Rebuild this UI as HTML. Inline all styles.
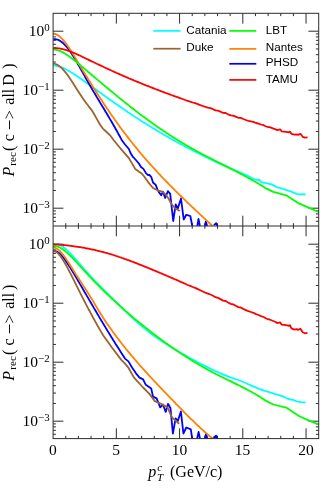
<!DOCTYPE html><html><head><meta charset="utf-8"><style>html,body{margin:0;padding:0;background:#fff}body{width:332px;height:492px;position:relative;overflow:hidden;font-family:"Liberation Sans",sans-serif}</style></head><body><svg width="332" height="492" viewBox="0 0 332 492" style="position:absolute;left:0;top:0;will-change:transform;opacity:0.999">
<defs><clipPath id="ct"><rect x="53.1" y="13.3" width="265.6" height="213.3"/></clipPath><clipPath id="cb"><rect x="53.1" y="226.0" width="265.6" height="213.2"/></clipPath></defs>
<path d="M65.75,13.3 v2.8 M65.75,223.2 v5.6 M65.75,438.6 v-2.8 M78.40,13.3 v2.8 M78.40,223.2 v5.6 M78.40,438.6 v-2.8 M91.04,13.3 v2.8 M91.04,223.2 v5.6 M91.04,438.6 v-2.8 M103.69,13.3 v2.8 M103.69,223.2 v5.6 M103.69,438.6 v-2.8 M116.34,13.3 v10.3 M116.34,215.7 v20.6 M116.34,438.6 v-10.3 M128.99,13.3 v2.8 M128.99,223.2 v5.6 M128.99,438.6 v-2.8 M141.63,13.3 v2.8 M141.63,223.2 v5.6 M141.63,438.6 v-2.8 M154.28,13.3 v2.8 M154.28,223.2 v5.6 M154.28,438.6 v-2.8 M166.93,13.3 v2.8 M166.93,223.2 v5.6 M166.93,438.6 v-2.8 M179.58,13.3 v10.3 M179.58,215.7 v20.6 M179.58,438.6 v-10.3 M192.22,13.3 v2.8 M192.22,223.2 v5.6 M192.22,438.6 v-2.8 M204.87,13.3 v2.8 M204.87,223.2 v5.6 M204.87,438.6 v-2.8 M217.52,13.3 v2.8 M217.52,223.2 v5.6 M217.52,438.6 v-2.8 M230.17,13.3 v2.8 M230.17,223.2 v5.6 M230.17,438.6 v-2.8 M242.81,13.3 v10.3 M242.81,215.7 v20.6 M242.81,438.6 v-10.3 M255.46,13.3 v2.8 M255.46,223.2 v5.6 M255.46,438.6 v-2.8 M268.11,13.3 v2.8 M268.11,223.2 v5.6 M268.11,438.6 v-2.8 M280.76,13.3 v2.8 M280.76,223.2 v5.6 M280.76,438.6 v-2.8 M293.40,13.3 v2.8 M293.40,223.2 v5.6 M293.40,438.6 v-2.8 M306.05,13.3 v10.3 M306.05,215.7 v20.6 M306.05,438.6 v-10.3 M53.1,221.29 h2.8 M318.7,221.29 h-2.8 M53.1,217.34 h2.8 M318.7,217.34 h-2.8 M53.1,213.92 h2.8 M318.7,213.92 h-2.8 M53.1,210.90 h2.8 M318.7,210.90 h-2.8 M53.1,208.20 h10.3 M318.7,208.20 h-10.3 M53.1,190.44 h2.8 M318.7,190.44 h-2.8 M53.1,180.05 h2.8 M318.7,180.05 h-2.8 M53.1,172.68 h2.8 M318.7,172.68 h-2.8 M53.1,166.96 h2.8 M318.7,166.96 h-2.8 M53.1,162.29 h2.8 M318.7,162.29 h-2.8 M53.1,158.34 h2.8 M318.7,158.34 h-2.8 M53.1,154.92 h2.8 M318.7,154.92 h-2.8 M53.1,151.90 h2.8 M318.7,151.90 h-2.8 M53.1,149.20 h10.3 M318.7,149.20 h-10.3 M53.1,131.44 h2.8 M318.7,131.44 h-2.8 M53.1,121.05 h2.8 M318.7,121.05 h-2.8 M53.1,113.68 h2.8 M318.7,113.68 h-2.8 M53.1,107.96 h2.8 M318.7,107.96 h-2.8 M53.1,103.29 h2.8 M318.7,103.29 h-2.8 M53.1,99.34 h2.8 M318.7,99.34 h-2.8 M53.1,95.92 h2.8 M318.7,95.92 h-2.8 M53.1,92.90 h2.8 M318.7,92.90 h-2.8 M53.1,90.20 h10.3 M318.7,90.20 h-10.3 M53.1,72.44 h2.8 M318.7,72.44 h-2.8 M53.1,62.05 h2.8 M318.7,62.05 h-2.8 M53.1,54.68 h2.8 M318.7,54.68 h-2.8 M53.1,48.96 h2.8 M318.7,48.96 h-2.8 M53.1,44.29 h2.8 M318.7,44.29 h-2.8 M53.1,40.34 h2.8 M318.7,40.34 h-2.8 M53.1,36.92 h2.8 M318.7,36.92 h-2.8 M53.1,33.90 h2.8 M318.7,33.90 h-2.8 M53.1,31.20 h10.3 M318.7,31.20 h-10.3 M53.1,434.29 h2.8 M318.7,434.29 h-2.8 M53.1,430.34 h2.8 M318.7,430.34 h-2.8 M53.1,426.92 h2.8 M318.7,426.92 h-2.8 M53.1,423.90 h2.8 M318.7,423.90 h-2.8 M53.1,421.20 h10.3 M318.7,421.20 h-10.3 M53.1,403.44 h2.8 M318.7,403.44 h-2.8 M53.1,393.05 h2.8 M318.7,393.05 h-2.8 M53.1,385.68 h2.8 M318.7,385.68 h-2.8 M53.1,379.96 h2.8 M318.7,379.96 h-2.8 M53.1,375.29 h2.8 M318.7,375.29 h-2.8 M53.1,371.34 h2.8 M318.7,371.34 h-2.8 M53.1,367.92 h2.8 M318.7,367.92 h-2.8 M53.1,364.90 h2.8 M318.7,364.90 h-2.8 M53.1,362.20 h10.3 M318.7,362.20 h-10.3 M53.1,344.44 h2.8 M318.7,344.44 h-2.8 M53.1,334.05 h2.8 M318.7,334.05 h-2.8 M53.1,326.68 h2.8 M318.7,326.68 h-2.8 M53.1,320.96 h2.8 M318.7,320.96 h-2.8 M53.1,316.29 h2.8 M318.7,316.29 h-2.8 M53.1,312.34 h2.8 M318.7,312.34 h-2.8 M53.1,308.92 h2.8 M318.7,308.92 h-2.8 M53.1,305.90 h2.8 M318.7,305.90 h-2.8 M53.1,303.20 h10.3 M318.7,303.20 h-10.3 M53.1,285.44 h2.8 M318.7,285.44 h-2.8 M53.1,275.05 h2.8 M318.7,275.05 h-2.8 M53.1,267.68 h2.8 M318.7,267.68 h-2.8 M53.1,261.96 h2.8 M318.7,261.96 h-2.8 M53.1,257.29 h2.8 M318.7,257.29 h-2.8 M53.1,253.34 h2.8 M318.7,253.34 h-2.8 M53.1,249.92 h2.8 M318.7,249.92 h-2.8 M53.1,246.90 h2.8 M318.7,246.90 h-2.8 M53.1,244.20 h10.3 M318.7,244.20 h-10.3 " stroke="#2c2c2c" stroke-width="1" fill="none"/>
<g clip-path="url(#ct)" fill="none" stroke-width="1.8" stroke-linejoin="round" stroke-linecap="butt">
<path d="M53.3,65.5 L54.3,65.6 L55.3,65.7 L56.3,65.9 L57.3,66.1 L58.3,66.3 L59.3,66.6 L60.3,66.9 L61.3,67.3 L62.3,67.7 L63.3,68.1 L64.3,68.6 L65.3,69.0 L66.3,69.5 L67.3,70.1 L68.3,70.6 L69.3,71.2 L70.3,71.8 L71.3,72.4 L72.3,73.0 L73.3,73.7 L74.3,74.3 L75.3,75.0 L76.3,75.7 L77.3,76.3 L78.3,77.0 L79.3,77.7 L80.3,78.4 L81.3,79.1 L82.3,79.8 L83.3,80.5 L84.3,81.2 L85.3,81.9 L86.3,82.7 L87.3,83.4 L88.3,84.1 L89.3,84.8 L90.3,85.5 L91.3,86.2 L92.3,86.9 L93.3,87.7 L94.3,88.4 L95.3,89.1 L96.3,89.8 L97.3,90.5 L98.3,91.3 L99.3,92.0 L100.3,92.7 L101.3,93.4 L102.3,94.1 L103.3,94.9 L104.3,95.6 L105.3,96.3 L106.3,97.0 L107.3,97.7 L108.3,98.5 L109.3,99.2 L110.3,99.9 L111.3,100.6 L112.3,101.3 L113.3,102.0 L114.3,102.7 L115.3,103.4 L116.3,104.1 L117.3,104.8 L118.3,105.5 L119.3,106.2 L120.3,106.9 L121.3,107.6 L122.3,108.3 L123.3,109.0 L124.3,109.7 L125.3,110.3 L126.3,111.0 L127.3,111.7 L128.3,112.4 L129.3,113.0 L130.3,113.7 L131.3,114.4 L132.3,115.0 L133.3,115.7 L134.3,116.4 L135.3,117.0 L136.3,117.7 L137.3,118.3 L138.3,119.0 L139.3,119.6 L140.3,120.2 L141.3,120.9 L142.3,121.5 L143.3,122.2 L144.3,122.8 L145.3,123.4 L146.3,124.0 L147.3,124.7 L148.3,125.3 L149.3,125.9 L150.3,126.5 L151.3,127.1 L152.3,127.8 L153.3,128.4 L154.3,129.0 L155.3,129.6 L156.3,130.2 L157.3,130.8 L158.3,131.4 L159.3,132.0 L160.3,132.6 L161.3,133.2 L162.3,133.7 L163.3,134.3 L164.3,134.9 L165.3,135.5 L166.3,136.1 L167.3,136.6 L168.3,137.2 L169.3,137.8 L170.3,138.4 L171.3,138.9 L172.3,139.5 L173.3,140.1 L174.3,140.6 L175.3,141.2 L176.3,141.7 L177.3,142.3 L178.3,142.8 L179.3,143.4 L180.3,143.9 L181.3,144.5 L182.3,145.0 L183.3,145.5 L184.3,146.1 L185.3,146.6 L186.3,147.1 L187.3,147.7 L188.3,148.2 L189.3,148.7 L190.3,149.2 L191.3,149.8 L192.3,150.3 L193.3,150.8 L194.3,151.3 L195.3,151.8 L196.3,152.3 L197.3,152.8 L198.3,153.3 L199.3,153.8 L200.3,154.3 L201.3,154.8 L202.3,155.3 L203.3,155.8 L204.3,156.3 L205.3,156.8 L206.3,157.3 L207.3,157.8 L208.3,158.3 L209.3,158.7 L210.3,159.2 L211.3,159.7 L212.3,160.2 L213.3,160.6 L214.3,161.1 L215.3,161.6 L216.3,162.0 L217.3,162.5 L218.3,163.0 L219.3,163.4 L220.3,163.9 L221.3,164.3 L222.3,164.8 L223.3,165.2 L224.3,165.7 L225.3,166.1 L226.3,166.6 L227.3,167.0 L228.3,167.4 L229.3,167.9 L230.3,168.3 L231.3,168.7 L232.3,169.2 L233.3,169.6 L234.3,170.0 L235.3,170.4 L236.3,170.9 L237.3,171.3 L238.3,171.7 L239.3,172.1 L240.0,172.4 L244.0,174.2 L248.4,176.0 L252.6,178.5 L256.9,180.0 L259.0,179.6 L261.1,182.1 L266.0,183.2 L271.6,184.4 L276.9,187.1 L282.2,188.6 L290.6,191.4 L296.0,193.6 L299.0,194.5 L302.0,194.2 L305.6,194.5" stroke="#00FFFF"/>
<path d="M53.3,39.3 L54.3,39.2 L55.3,39.2 L56.3,39.3 L57.3,39.6 L58.3,39.9 L59.3,40.4 L60.3,41.0 L61.3,41.7 L62.3,42.5 L63.3,43.3 L64.3,44.3 L65.3,45.4 L66.3,46.5 L67.3,47.7 L68.3,49.0 L69.3,50.3 L70.3,51.7 L71.3,53.2 L72.3,54.7 L73.3,56.3 L74.3,57.9 L75.3,59.5 L76.3,61.2 L77.3,62.9 L78.3,64.7 L79.3,66.4 L80.3,68.2 L81.3,70.0 L82.3,71.8 L83.3,73.6 L84.3,75.4 L85.3,77.2 L86.3,79.0 L87.3,80.8 L88.3,82.5 L89.3,84.3 L90.3,86.0 L91.3,87.7 L92.3,89.5 L93.3,91.2 L94.3,92.8 L95.3,94.5 L96.3,96.2 L97.3,97.9 L98.3,99.5 L99.3,101.2 L100.3,102.9 L101.3,104.5 L102.3,106.2 L103.3,107.8 L104.3,109.5 L105.3,111.2 L106.3,112.8 L107.3,114.5 L108.3,116.2 L109.3,117.9 L110.3,119.6 L111.3,121.3 L112.3,123.0 L113.3,124.7 L114.3,126.5 L115.3,128.3 L116.3,130.0 L117.3,131.8 L118.3,133.7 L119.3,135.5 L120.3,137.3 L121.3,139.2 L121.7,140.0 L125.0,144.5 L128.9,149.0 L130.5,153.0 L132.5,156.3 L135.0,159.0 L138.9,163.5 L141.0,167.0 L143.4,168.9 L146.1,173.4 L148.0,175.0 L149.4,175.0 L151.2,176.8 L153.0,182.5 L155.7,184.9 L157.6,189.9 L158.9,192.1 L161.2,195.3 L163.0,191.7 L165.2,198.0 L167.9,191.2 L170.2,193.9 L173.2,221.0 L175.7,204.3 L177.8,208.5 L181.0,198.4 L183.7,219.5 L186.3,214.8 L190.3,216.0 L192.3,226.0 M197.3,226.0 L198.5,219.0 L199.9,226.0 M204.8,226.0 L205.9,221.5 L207.1,226.0 M213.9,225.4 L216.1,223.1 L217.3,226.0" stroke="#0000FF"/>
<path d="M53.3,33.6 L54.3,33.7 L55.3,34.0 L56.3,34.4 L57.3,34.9 L58.3,35.6 L59.3,36.3 L60.3,37.1 L61.3,38.1 L62.3,39.1 L63.3,40.2 L64.3,41.4 L65.3,42.6 L66.3,43.9 L67.3,45.3 L68.3,46.8 L69.3,48.2 L70.3,49.8 L71.3,51.3 L72.3,52.9 L73.3,54.6 L74.3,56.2 L75.3,57.9 L76.3,59.5 L77.3,61.2 L78.3,62.9 L79.3,64.6 L80.3,66.2 L81.3,67.9 L82.3,69.5 L83.3,71.2 L84.3,72.8 L85.3,74.5 L86.3,76.1 L87.3,77.7 L88.3,79.4 L89.3,81.0 L90.3,82.6 L91.3,84.2 L92.3,85.8 L93.3,87.4 L94.3,89.0 L95.3,90.5 L96.3,92.1 L97.3,93.7 L98.3,95.2 L99.3,96.8 L100.3,98.3 L101.3,99.8 L102.3,101.4 L103.3,102.9 L104.3,104.4 L105.3,105.9 L106.3,107.4 L107.3,108.9 L108.3,110.3 L109.3,111.8 L110.3,113.3 L111.3,114.7 L112.3,116.2 L113.3,117.6 L114.3,119.0 L115.3,120.4 L116.3,121.8 L117.3,123.2 L118.3,124.6 L119.3,126.0 L120.3,127.4 L121.3,128.7 L122.3,130.1 L123.3,131.4 L124.3,132.7 L125.3,134.0 L126.3,135.3 L127.3,136.6 L128.3,137.9 L129.3,139.2 L130.3,140.5 L131.3,141.7 L132.3,143.0 L133.3,144.3 L134.3,145.5 L135.3,146.7 L136.3,147.9 L137.3,149.2 L138.3,150.4 L139.3,151.6 L140.3,152.8 L141.3,154.0 L142.3,155.1 L143.3,156.3 L144.3,157.5 L145.3,158.6 L146.3,159.8 L147.3,160.9 L148.3,162.1 L149.3,163.2 L150.3,164.3 L151.3,165.4 L152.3,166.5 L153.3,167.6 L154.3,168.7 L155.3,169.8 L156.3,170.9 L157.3,172.0 L158.3,173.1 L159.3,174.1 L160.3,175.2 L161.3,176.3 L162.3,177.3 L163.3,178.4 L164.3,179.4 L165.3,180.5 L166.3,181.5 L167.3,182.5 L168.3,183.5 L169.3,184.6 L170.3,185.6 L171.3,186.6 L172.3,187.6 L173.3,188.6 L174.3,189.6 L175.3,190.6 L176.3,191.6 L177.3,192.6 L178.3,193.6 L179.3,194.6 L180.3,195.5 L181.3,196.5 L182.3,197.5 L183.3,198.5 L184.3,199.4 L185.3,200.4 L186.3,201.3 L187.3,202.3 L188.3,203.3 L189.3,204.2 L190.3,205.2 L191.3,206.1 L192.3,207.1 L193.3,208.0 L194.3,209.0 L195.3,209.9 L196.3,210.9 L197.3,211.8 L198.3,212.7 L199.3,213.7 L200.3,214.6 L201.3,215.5 L202.3,216.5 L203.3,217.4 L204.3,218.4 L205.3,219.3 L206.3,220.2 L207.3,221.2 L208.3,222.1 L209.3,223.0 L210.3,224.0 L211.3,224.9 L212.3,225.8 L212.5,226.0" stroke="#FF8000"/>
<path d="M53.3,63.6 L54.3,63.7 L55.3,64.0 L56.3,64.3 L57.3,64.8 L58.3,65.4 L59.3,66.1 L60.3,66.9 L61.3,67.7 L62.3,68.7 L63.3,69.8 L64.3,70.9 L65.3,72.1 L66.3,73.4 L67.3,74.7 L68.3,76.1 L69.3,77.6 L70.3,79.0 L71.3,80.5 L72.3,82.1 L73.3,83.6 L74.3,85.2 L75.3,86.8 L76.3,88.4 L77.3,89.9 L78.3,91.5 L79.3,93.1 L80.3,94.6 L81.3,96.1 L82.3,97.6 L83.3,99.0 L84.3,100.4 L85.3,101.8 L86.3,103.2 L87.3,104.5 L88.3,105.8 L89.3,107.1 L90.3,108.4 L91.3,109.6 L92.0,110.5 L96.8,118.9 L100.0,124.5 L102.8,128.6 L105.0,130.5 L110.1,135.3 L113.6,140.0 L119.9,147.7 L121.7,149.9 L128.9,158.1 L135.2,168.9 L141.6,173.4 L144.0,176.3 L148.5,182.6 L153.0,188.0 L157.6,190.3 L162.1,191.7 L165.7,194.4 L168.8,198.9 L171.1,203.5 L175.3,208.5 L179.9,211.0" stroke="#9C642C"/>
<path d="M53.3,49.5 L54.3,49.5 L55.3,49.6 L56.3,49.8 L57.3,50.0 L58.3,50.4 L59.3,50.7 L60.3,51.1 L61.3,51.6 L62.3,52.1 L63.3,52.6 L64.3,53.2 L65.3,53.8 L66.3,54.5 L67.3,55.2 L68.3,55.8 L69.3,56.5 L70.3,57.3 L71.3,58.0 L72.3,58.8 L73.3,59.5 L74.3,60.3 L75.3,61.1 L76.3,61.9 L77.3,62.7 L78.3,63.6 L79.3,64.4 L80.3,65.2 L81.3,66.1 L82.3,66.9 L83.3,67.7 L84.3,68.6 L85.3,69.4 L86.3,70.3 L87.3,71.1 L88.3,72.0 L89.3,72.8 L90.3,73.6 L91.3,74.5 L92.3,75.3 L93.3,76.2 L94.3,77.0 L95.3,77.9 L96.3,78.7 L97.3,79.6 L98.3,80.4 L99.3,81.2 L100.3,82.1 L101.3,82.9 L102.3,83.8 L103.3,84.6 L104.3,85.4 L105.3,86.3 L106.3,87.1 L107.3,88.0 L108.3,88.8 L109.3,89.6 L110.3,90.5 L111.3,91.3 L112.3,92.1 L113.3,92.9 L114.3,93.8 L115.3,94.6 L116.3,95.4 L117.3,96.2 L118.3,97.1 L119.3,97.9 L120.3,98.7 L121.3,99.5 L122.3,100.3 L123.3,101.1 L124.3,101.9 L125.3,102.7 L126.3,103.5 L127.3,104.3 L128.3,105.1 L129.3,105.9 L130.3,106.7 L131.3,107.5 L132.3,108.2 L133.3,109.0 L134.3,109.8 L135.3,110.6 L136.3,111.3 L137.3,112.1 L138.3,112.9 L139.3,113.6 L140.3,114.4 L141.3,115.1 L142.3,115.9 L143.3,116.6 L144.3,117.3 L145.3,118.1 L146.3,118.8 L147.3,119.5 L148.3,120.3 L149.3,121.0 L150.3,121.7 L151.3,122.4 L152.3,123.1 L153.3,123.9 L154.3,124.6 L155.3,125.3 L156.3,126.0 L157.3,126.7 L158.3,127.4 L159.3,128.0 L160.3,128.7 L161.3,129.4 L162.3,130.1 L163.3,130.8 L164.3,131.4 L165.3,132.1 L166.3,132.8 L167.3,133.4 L168.3,134.1 L169.3,134.7 L170.3,135.4 L171.3,136.0 L172.3,136.7 L173.3,137.3 L174.3,137.9 L175.3,138.6 L176.3,139.2 L177.3,139.8 L178.3,140.4 L179.3,141.0 L180.3,141.7 L181.3,142.3 L182.3,142.9 L183.3,143.5 L184.3,144.1 L185.3,144.7 L186.3,145.2 L187.3,145.8 L188.3,146.4 L189.3,147.0 L190.3,147.6 L191.3,148.1 L192.3,148.7 L193.3,149.3 L194.3,149.8 L195.3,150.4 L196.3,150.9 L197.3,151.5 L198.3,152.0 L199.3,152.5 L200.3,153.1 L201.3,153.6 L202.3,154.2 L203.3,154.7 L204.3,155.2 L205.3,155.7 L206.3,156.2 L207.3,156.8 L208.3,157.3 L209.3,157.8 L210.3,158.3 L211.3,158.8 L212.3,159.3 L213.3,159.8 L214.3,160.3 L215.3,160.9 L216.3,161.4 L217.3,161.9 L218.3,162.4 L219.3,162.9 L220.3,163.4 L221.3,163.9 L222.3,164.4 L223.3,164.9 L224.3,165.4 L225.3,165.9 L226.3,166.4 L227.3,166.9 L228.3,167.4 L229.3,167.9 L230.3,168.4 L231.3,168.9 L232.3,169.4 L233.3,170.0 L234.3,170.5 L235.3,171.0 L236.3,171.5 L237.3,172.0 L238.3,172.5 L239.3,173.1 L240.3,173.6 L241.3,174.1 L242.3,174.6 L243.3,175.2 L244.3,175.7 L245.3,176.3 L246.3,176.8 L247.3,177.3 L248.3,177.9 L249.3,178.4 L250.3,179.0 L251.3,179.6 L252.3,180.1 L253.3,180.7 L254.3,181.3 L255.3,181.8 L256.3,182.4 L257.3,183.0 L258.3,183.6 L259.3,184.2 L260.3,184.8 L261.3,185.4 L262.3,186.0 L263.3,186.6 L264.3,187.3 L265.3,187.9 L265.6,188.1 L273.3,191.9 L286.1,195.3 L298.9,203.4 L309.1,207.8 L318.6,212.0" stroke="#00FF00"/>
<path d="M53.3,47.9 L54.3,47.9 L55.3,48.0 L56.3,48.1 L57.3,48.2 L58.3,48.3 L59.3,48.4 L60.3,48.6 L61.3,48.8 L62.3,49.0 L63.3,49.3 L64.3,49.5 L65.3,49.8 L66.3,50.1 L67.3,50.4 L68.3,50.8 L69.3,51.1 L70.3,51.5 L71.3,51.9 L72.3,52.3 L73.3,52.7 L74.3,53.1 L75.3,53.5 L76.3,54.0 L77.3,54.4 L78.3,54.9 L79.3,55.3 L80.3,55.8 L81.3,56.3 L82.3,56.8 L83.3,57.2 L84.3,57.7 L85.3,58.2 L86.3,58.7 L87.3,59.2 L88.3,59.6 L89.3,60.1 L90.3,60.6 L91.3,61.1 L92.3,61.6 L93.3,62.0 L94.3,62.5 L95.3,63.0 L96.3,63.5 L97.3,64.0 L98.3,64.4 L99.3,64.9 L100.3,65.4 L101.3,65.8 L102.3,66.3 L103.3,66.8 L104.3,67.3 L105.3,67.7 L106.3,68.2 L107.3,68.7 L108.3,69.1 L109.3,69.6 L110.3,70.0 L111.3,70.5 L112.3,71.0 L113.3,71.4 L114.3,71.9 L115.3,72.3 L116.3,72.8 L117.3,73.2 L118.3,73.7 L119.3,74.1 L120.3,74.6 L121.3,75.0 L122.3,75.4 L123.3,75.9 L124.3,76.3 L125.3,76.7 L126.3,77.2 L127.3,77.6 L128.3,78.0 L129.3,78.5 L130.3,78.9 L131.3,79.3 L132.3,79.7 L133.3,80.1 L134.3,80.6 L135.3,81.0 L136.3,81.4 L137.3,81.8 L138.3,82.2 L139.3,82.6 L140.3,83.0 L141.3,83.4 L142.3,83.8 L143.3,84.3 L144.3,84.7 L145.3,85.1 L146.3,85.5 L147.3,85.8 L148.3,86.2 L149.3,86.6 L150.3,87.0 L151.3,87.4 L152.3,87.8 L153.3,88.2 L154.3,88.6 L155.3,89.0 L156.3,89.4 L157.3,89.7 L158.3,90.1 L159.3,90.5 L160.3,90.9 L161.3,91.3 L162.3,91.6 L163.3,92.0 L164.3,92.4 L165.3,92.8 L166.3,93.1 L167.3,93.5 L168.3,93.9 L169.3,94.2 L170.3,94.6 L171.3,95.0 L172.3,95.3 L173.3,95.7 L174.3,96.1 L177.5,97.1 L180.1,98.2 L182.6,99.0 L185.1,100.0 L187.7,100.9 L190.2,101.7 L192.7,102.5 L195.2,103.2 L197.8,104.1 L200.3,105.1 L202.8,106.0 L205.4,106.9 L207.9,107.6 L210.4,108.2 L213.0,109.2 L215.5,110.4 L218.0,110.7 L220.5,111.7 L223.1,112.9 L225.6,113.0 L228.1,114.3 L230.7,115.4 L233.2,115.6 L235.7,116.6 L238.3,117.8 L240.8,117.9 L243.3,119.0 L245.8,120.0 L248.4,120.8 L250.9,121.4 L253.4,121.9 L256.0,123.0 L258.5,123.6 L261.0,124.5 L263.6,125.2 L266.1,126.5 L268.6,127.2 L269.5,127.2 L275.6,129.3 L277.1,130.1 L280.1,129.3 L281.6,131.3 L286.1,131.9 L289.1,132.3 L289.9,131.6 L291.4,133.8 L294.4,134.6 L296.6,134.3 L298.1,134.9 L300.4,133.8 L302.7,136.8 L304.9,137.6 L307.5,137.3" stroke="#FF0000"/>
</g>
<g clip-path="url(#cb)" fill="none" stroke-width="1.8" stroke-linejoin="round" stroke-linecap="butt">
<path d="M53.3,244.1 L54.3,243.9 L55.3,243.9 L56.3,244.0 L57.3,244.2 L58.3,244.5 L59.3,244.8 L60.3,245.3 L61.3,245.8 L62.3,246.4 L63.3,247.1 L64.3,247.8 L65.3,248.6 L66.3,249.5 L67.3,250.4 L68.3,251.4 L69.3,252.4 L70.3,253.4 L71.3,254.4 L72.3,255.5 L73.3,256.6 L74.3,257.8 L75.3,258.9 L76.3,260.1 L77.3,261.2 L78.3,262.4 L79.3,263.5 L80.3,264.7 L81.3,265.8 L82.3,267.0 L83.3,268.1 L84.3,269.3 L85.3,270.4 L86.3,271.5 L87.3,272.6 L88.3,273.7 L89.3,274.9 L90.3,276.0 L91.3,277.1 L92.3,278.1 L93.3,279.2 L94.3,280.3 L95.3,281.3 L96.3,282.4 L97.3,283.4 L98.3,284.4 L99.3,285.4 L100.3,286.4 L101.3,287.5 L102.3,288.4 L103.3,289.4 L104.3,290.4 L105.3,291.4 L106.3,292.4 L107.3,293.4 L108.3,294.4 L109.3,295.3 L110.3,296.3 L111.3,297.3 L112.3,298.3 L113.3,299.3 L114.3,300.3 L115.3,301.3 L116.3,302.2 L117.3,303.2 L118.3,304.2 L119.3,305.2 L120.3,306.2 L121.3,307.2 L122.3,308.2 L123.3,309.1 L124.3,310.1 L125.3,311.1 L126.3,312.0 L127.3,313.0 L128.3,314.0 L129.3,314.9 L130.3,315.9 L131.3,316.8 L132.3,317.7 L133.3,318.6 L134.3,319.6 L135.3,320.5 L136.3,321.4 L137.3,322.3 L138.3,323.1 L139.3,324.0 L140.3,324.9 L141.3,325.7 L142.3,326.6 L143.3,327.4 L144.3,328.2 L145.3,329.0 L146.3,329.8 L147.3,330.6 L148.3,331.4 L149.3,332.2 L150.3,332.9 L151.3,333.7 L152.3,334.5 L153.3,335.2 L154.3,335.9 L155.3,336.6 L156.3,337.4 L157.3,338.1 L158.3,338.8 L159.3,339.5 L160.3,340.1 L161.3,340.8 L162.3,341.5 L163.3,342.2 L164.3,342.8 L165.3,343.5 L166.3,344.1 L167.3,344.8 L168.3,345.4 L169.3,346.0 L170.3,346.6 L171.3,347.3 L172.3,347.9 L173.3,348.5 L174.3,349.1 L175.3,349.7 L176.3,350.3 L177.3,350.9 L178.3,351.4 L179.3,352.0 L180.3,352.6 L181.3,353.2 L182.3,353.7 L183.3,354.3 L184.3,354.9 L185.3,355.4 L186.3,356.0 L187.3,356.5 L188.3,357.1 L189.3,357.7 L190.3,358.2 L191.3,358.7 L192.3,359.3 L193.3,359.8 L194.3,360.4 L195.3,360.9 L196.3,361.4 L197.3,362.0 L198.3,362.5 L199.3,363.0 L200.3,363.6 L201.3,364.1 L202.3,364.6 L203.3,365.1 L204.3,365.6 L205.3,366.1 L206.3,366.6 L207.3,367.1 L208.3,367.6 L209.3,368.1 L210.3,368.6 L211.3,369.1 L212.3,369.6 L213.3,370.0 L214.3,370.5 L215.3,371.0 L216.3,371.4 L217.3,371.9 L218.3,372.3 L219.3,372.8 L220.3,373.2 L221.3,373.7 L222.3,374.1 L223.3,374.5 L224.3,374.9 L225.3,375.3 L226.3,375.7 L227.3,376.1 L228.3,376.5 L229.3,376.9 L230.3,377.3 L231.3,377.6 L232.3,378.0 L233.3,378.3 L234.3,378.7 L235.3,379.0 L236.3,379.4 L237.3,379.7 L238.3,380.0 L239.3,380.3 L240.0,380.5 L246.0,383.2 L252.0,385.8 L259.3,388.9 L264.1,390.7 L270.0,392.3 L276.1,394.3 L280.0,395.4 L284.6,397.2 L288.2,399.0 L293.0,399.8 L296.6,401.4 L301.4,402.2 L305.6,402.7" stroke="#00FFFF"/>
<path d="M53.3,251.5 L54.3,251.2 L55.3,251.2 L56.3,251.4 L57.3,251.8 L58.3,252.4 L59.3,253.2 L60.3,254.1 L61.3,255.1 L62.3,256.3 L63.3,257.5 L64.3,258.9 L65.3,260.2 L66.3,261.7 L67.3,263.2 L68.3,264.7 L69.3,266.2 L70.3,267.8 L71.3,269.4 L72.3,271.0 L73.3,272.7 L74.3,274.4 L75.3,276.0 L76.3,277.7 L77.3,279.4 L78.3,281.2 L79.3,282.9 L80.3,284.6 L81.3,286.3 L82.3,288.0 L83.3,289.7 L84.3,291.5 L85.3,293.2 L86.3,294.9 L87.3,296.6 L88.3,298.3 L89.3,300.1 L90.3,301.8 L91.3,303.5 L92.3,305.2 L93.3,306.9 L94.3,308.6 L95.3,310.3 L96.3,312.0 L97.3,313.7 L98.3,315.4 L99.3,317.1 L100.3,318.8 L101.3,320.5 L102.3,322.1 L103.3,323.8 L104.3,325.5 L105.3,327.1 L106.3,328.8 L107.3,330.4 L108.3,332.1 L109.3,333.7 L110.3,335.3 L111.3,337.0 L112.3,338.6 L113.3,340.2 L114.3,341.8 L115.3,343.4 L116.3,344.9 L117.3,346.5 L118.3,348.1 L119.3,349.6 L120.3,351.2 L121.1,352.4 L125.0,358.6 L128.4,361.4 L132.2,367.7 L135.8,373.1 L139.5,377.6 L143.1,379.4 L145.8,384.8 L151.2,388.4 L153.0,396.6 L156.6,398.4 L160.2,407.4 L163.0,404.7 L165.7,411.9 L168.0,403.8 L170.5,408.3 L172.9,433.6 L175.6,418.3 L177.8,421.0 L180.9,411.5 L183.4,433.5 L186.3,427.5 L190.8,429.3 L192.2,438.6 M197.1,438.6 L198.6,432.0 L200.0,438.6 M204.7,438.6 L206.1,433.9 L207.4,438.6 M213.4,437.8 L216.1,435.7 L217.4,438.6" stroke="#0000FF"/>
<path d="M53.3,247.6 L54.3,247.7 L55.3,248.0 L56.3,248.4 L57.3,249.0 L58.3,249.7 L59.3,250.6 L60.3,251.5 L61.3,252.6 L62.3,253.8 L63.3,255.0 L64.3,256.3 L65.3,257.7 L66.3,259.2 L67.3,260.7 L68.3,262.2 L69.3,263.8 L70.3,265.4 L71.3,267.0 L72.3,268.6 L73.3,270.2 L74.3,271.8 L75.3,273.4 L76.3,275.0 L77.3,276.5 L78.3,278.0 L79.3,279.6 L80.3,281.1 L81.3,282.6 L82.3,284.2 L83.3,285.7 L84.3,287.2 L85.3,288.8 L86.3,290.3 L87.3,291.9 L88.3,293.5 L89.3,295.0 L90.3,296.7 L91.3,298.3 L92.3,299.9 L93.3,301.6 L94.3,303.3 L95.3,304.9 L96.3,306.6 L97.3,308.3 L98.3,309.9 L99.3,311.6 L100.3,313.2 L101.3,314.8 L102.3,316.3 L103.3,317.9 L104.3,319.4 L105.3,320.9 L106.3,322.4 L107.3,323.9 L108.3,325.3 L109.3,326.8 L110.3,328.2 L111.3,329.6 L112.3,331.0 L113.3,332.4 L114.3,333.8 L115.3,335.1 L116.3,336.5 L117.3,337.8 L118.3,339.1 L119.3,340.4 L120.3,341.7 L121.3,343.0 L122.3,344.3 L123.3,345.5 L124.3,346.8 L125.3,348.0 L126.3,349.3 L127.3,350.5 L128.3,351.7 L129.3,352.9 L130.3,354.1 L131.3,355.3 L132.3,356.5 L133.3,357.7 L134.3,358.9 L135.3,360.0 L136.3,361.2 L137.3,362.3 L138.3,363.5 L139.3,364.6 L140.3,365.8 L141.3,366.9 L142.3,368.0 L143.3,369.1 L144.3,370.2 L145.3,371.3 L146.3,372.4 L147.3,373.5 L148.3,374.6 L149.3,375.7 L150.3,376.8 L151.3,377.9 L152.3,378.9 L153.3,380.0 L154.3,381.1 L155.3,382.1 L156.3,383.2 L157.3,384.3 L158.3,385.3 L159.3,386.4 L160.3,387.4 L161.3,388.5 L162.3,389.5 L163.3,390.6 L164.3,391.6 L165.3,392.6 L166.3,393.7 L167.3,394.7 L168.3,395.8 L169.3,396.8 L170.3,397.8 L171.3,398.9 L172.3,399.9 L173.3,400.9 L174.3,402.0 L175.3,403.0 L176.3,404.1 L177.3,405.1 L178.3,406.1 L179.3,407.1 L180.3,408.2 L181.3,409.2 L182.3,410.2 L183.3,411.2 L184.3,412.3 L185.3,413.3 L186.3,414.3 L187.3,415.3 L188.3,416.3 L189.3,417.3 L190.3,418.3 L191.3,419.3 L192.3,420.2 L193.3,421.2 L194.3,422.2 L195.3,423.1 L196.3,424.1 L197.3,425.1 L198.3,426.0 L199.3,426.9 L200.3,427.9 L201.3,428.8 L202.3,429.7 L203.3,430.6 L204.3,431.5 L205.3,432.4 L206.3,433.3 L207.3,434.1 L208.3,435.0 L209.3,435.9 L210.3,436.7 L211.3,437.5 L212.3,438.3 L212.6,438.6" stroke="#FF8000"/>
<path d="M53.3,251.3 L54.3,251.3 L55.3,251.5 L56.3,252.1 L57.3,252.8 L58.3,253.7 L59.3,254.8 L60.3,256.0 L61.3,257.4 L62.3,258.8 L63.3,260.4 L64.3,262.1 L65.3,263.8 L66.3,265.6 L67.3,267.4 L68.3,269.3 L69.3,271.3 L70.3,273.2 L71.3,275.2 L72.3,277.2 L73.3,279.2 L74.3,281.2 L75.3,283.2 L76.3,285.2 L77.3,287.2 L78.3,289.2 L79.3,291.2 L80.3,293.2 L81.3,295.2 L82.3,297.1 L83.3,299.1 L84.3,301.0 L85.3,302.9 L86.3,304.9 L87.3,306.8 L88.3,308.7 L89.3,310.5 L90.3,312.4 L91.3,314.3 L92.3,316.1 L93.3,318.0 L94.3,319.8 L95.3,321.6 L96.3,323.4 L97.3,325.2 L98.3,326.9 L99.3,328.7 L100.3,330.4 L101.3,332.1 L102.3,333.8 L103.1,335.2 L112.1,347.8 L121.1,359.6 L125.0,363.7 L128.4,367.7 L134.0,377.6 L143.1,387.5 L149.4,393.9 L154.8,401.1 L161.1,403.8 L167.5,407.4 L172.0,417.4 L179.2,423.7" stroke="#9C642C"/>
<path d="M53.3,245.9 L54.3,245.9 L55.3,246.0 L56.3,246.2 L57.3,246.5 L58.3,246.9 L59.3,247.3 L60.3,247.8 L61.3,248.4 L62.3,249.0 L63.3,249.7 L64.3,250.4 L65.3,251.2 L66.3,252.1 L67.3,252.9 L68.3,253.8 L69.3,254.8 L70.3,255.7 L71.3,256.7 L72.3,257.7 L73.3,258.8 L74.3,259.8 L75.3,260.9 L76.3,261.9 L77.3,263.0 L78.3,264.1 L79.3,265.2 L80.3,266.3 L81.3,267.4 L82.3,268.5 L83.3,269.6 L84.3,270.7 L85.3,271.8 L86.3,272.9 L87.3,274.0 L88.3,275.1 L89.3,276.1 L90.3,277.2 L91.3,278.2 L92.3,279.3 L93.3,280.3 L94.3,281.4 L95.3,282.4 L96.3,283.4 L97.3,284.4 L98.3,285.4 L99.3,286.4 L100.3,287.4 L101.3,288.4 L102.3,289.4 L103.3,290.4 L104.3,291.4 L105.3,292.3 L106.3,293.3 L107.3,294.3 L108.3,295.2 L109.3,296.2 L110.3,297.1 L111.3,298.0 L112.3,299.0 L113.3,299.9 L114.3,300.8 L115.3,301.7 L116.3,302.6 L117.3,303.6 L118.3,304.5 L119.3,305.4 L120.3,306.3 L121.3,307.1 L122.3,308.0 L123.3,308.9 L124.3,309.8 L125.3,310.7 L126.3,311.6 L127.3,312.4 L128.3,313.3 L129.3,314.2 L130.3,315.0 L131.3,315.9 L132.3,316.7 L133.3,317.6 L134.3,318.4 L135.3,319.3 L136.3,320.1 L137.3,320.9 L138.3,321.8 L139.3,322.6 L140.3,323.4 L141.3,324.2 L142.3,325.0 L143.3,325.8 L144.3,326.6 L145.3,327.4 L146.3,328.2 L147.3,329.0 L148.3,329.8 L149.3,330.6 L150.3,331.4 L151.3,332.2 L152.3,332.9 L153.3,333.7 L154.3,334.5 L155.3,335.2 L156.3,336.0 L157.3,336.8 L158.3,337.5 L159.3,338.3 L160.3,339.0 L161.3,339.7 L162.3,340.5 L163.3,341.2 L164.3,341.9 L165.3,342.7 L166.3,343.4 L167.3,344.1 L168.3,344.8 L169.3,345.5 L170.3,346.2 L171.3,346.9 L172.3,347.6 L173.3,348.3 L174.3,349.0 L175.3,349.7 L176.3,350.3 L177.3,351.0 L178.3,351.7 L179.3,352.4 L180.3,353.0 L181.3,353.7 L182.3,354.3 L183.3,355.0 L184.3,355.6 L185.3,356.3 L186.3,356.9 L187.3,357.6 L188.3,358.2 L189.3,358.8 L190.3,359.4 L191.3,360.1 L192.3,360.7 L193.3,361.3 L194.3,361.9 L195.3,362.5 L196.3,363.1 L197.3,363.7 L198.3,364.3 L199.3,364.9 L200.3,365.5 L201.3,366.0 L202.3,366.6 L203.3,367.2 L204.3,367.7 L205.3,368.3 L206.3,368.9 L207.3,369.4 L208.3,370.0 L209.3,370.5 L210.3,371.1 L211.3,371.6 L212.3,372.1 L213.3,372.7 L214.3,373.2 L215.3,373.7 L216.3,374.2 L217.3,374.7 L218.3,375.2 L219.3,375.7 L220.3,376.2 L221.3,376.7 L222.3,377.2 L223.3,377.7 L224.3,378.2 L225.3,378.7 L226.3,379.2 L227.3,379.7 L228.3,380.2 L229.3,380.7 L230.3,381.1 L231.3,381.6 L232.3,382.1 L233.3,382.6 L234.3,383.1 L235.3,383.6 L236.3,384.1 L237.3,384.6 L238.3,385.1 L239.3,385.5 L240.3,386.0 L241.3,386.6 L242.3,387.1 L243.3,387.6 L244.3,388.1 L245.3,388.6 L246.3,389.1 L247.3,389.7 L248.3,390.2 L249.3,390.7 L250.3,391.3 L251.3,391.8 L252.3,392.4 L253.3,393.0 L254.3,393.5 L255.3,394.1 L256.3,394.7 L257.3,395.3 L258.3,395.9 L259.3,396.5 L260.3,397.1 L261.3,397.8 L262.3,398.4 L263.3,399.1 L264.3,399.7 L265.3,400.4 L265.6,400.6 L273.3,404.5 L286.1,407.6 L298.9,416.0 L309.1,420.6 L318.6,424.4" stroke="#00FF00"/>
<path d="M53.3,244.1 L54.3,244.2 L55.3,244.3 L56.3,244.4 L57.3,244.4 L58.3,244.5 L59.3,244.6 L60.3,244.7 L61.3,244.8 L62.3,244.9 L63.3,245.0 L64.3,245.1 L65.3,245.2 L66.3,245.3 L67.3,245.4 L68.3,245.6 L69.3,245.7 L70.3,245.8 L71.3,245.9 L72.3,246.1 L73.3,246.2 L74.3,246.3 L75.3,246.5 L76.3,246.6 L77.3,246.8 L78.3,246.9 L79.3,247.1 L80.3,247.2 L81.3,247.4 L82.3,247.6 L83.3,247.7 L84.3,247.9 L85.3,248.1 L86.3,248.3 L87.3,248.5 L88.3,248.7 L89.3,248.9 L90.3,249.1 L91.3,249.3 L92.3,249.5 L93.3,249.7 L94.3,249.9 L95.3,250.1 L96.3,250.4 L97.3,250.6 L98.3,250.8 L99.3,251.1 L100.3,251.3 L101.3,251.6 L102.3,251.8 L103.3,252.1 L104.3,252.4 L105.3,252.7 L106.3,252.9 L107.3,253.2 L108.3,253.5 L109.3,253.8 L110.3,254.1 L111.3,254.4 L112.3,254.7 L113.3,255.0 L114.3,255.3 L115.3,255.6 L116.3,256.0 L117.3,256.3 L118.3,256.6 L119.3,257.0 L120.3,257.3 L121.3,257.6 L122.3,258.0 L123.3,258.3 L124.3,258.7 L125.3,259.1 L126.3,259.4 L127.3,259.8 L128.3,260.1 L129.3,260.5 L130.3,260.9 L131.3,261.3 L132.3,261.6 L133.3,262.0 L134.3,262.4 L135.3,262.8 L136.3,263.2 L137.3,263.6 L138.3,264.0 L139.3,264.4 L140.3,264.8 L141.3,265.2 L142.3,265.6 L143.3,266.0 L144.3,266.4 L145.3,266.8 L146.3,267.2 L147.3,267.6 L148.3,268.0 L149.3,268.4 L150.3,268.8 L151.3,269.2 L152.3,269.6 L153.3,270.1 L154.3,270.5 L155.3,270.9 L156.3,271.3 L157.3,271.7 L158.3,272.2 L159.3,272.6 L160.3,273.0 L161.3,273.4 L162.3,273.8 L163.3,274.3 L164.3,274.7 L165.3,275.1 L166.3,275.5 L167.3,276.0 L168.3,276.4 L169.3,276.8 L170.3,277.3 L171.3,277.7 L172.3,278.1 L173.3,278.6 L174.3,279.0 L177.5,280.3 L180.1,281.6 L182.6,282.6 L185.1,283.8 L187.7,285.0 L190.2,285.9 L192.7,287.0 L195.2,287.9 L197.8,289.1 L200.3,290.3 L202.8,291.5 L205.4,292.7 L207.9,293.6 L210.4,294.5 L213.0,295.7 L215.5,297.2 L218.0,297.9 L220.5,299.1 L223.1,300.6 L225.6,301.0 L228.1,302.5 L230.7,303.9 L233.2,304.4 L235.7,305.7 L238.3,307.1 L240.8,307.5 L243.3,308.9 L245.8,310.2 L248.4,311.2 L250.9,312.0 L253.4,312.8 L256.0,314.1 L258.5,315.0 L261.0,316.1 L263.6,317.0 L266.1,318.5 L268.6,319.4 L269.5,319.5 L275.6,322.0 L277.1,323.1 L280.1,322.3 L281.6,324.6 L286.1,325.1 L289.1,325.8 L289.9,325.1 L291.4,328.4 L294.4,329.6 L296.6,329.1 L298.1,329.9 L300.4,328.8 L302.7,332.3 L304.9,333.3 L307.5,332.9" stroke="#FF0000"/>
</g>
<g stroke="#2c2c2c" stroke-width="1" fill="none" shape-rendering="auto">
<rect x="53.1" y="13.3" width="265.6" height="425.3"/>
<line x1="53.1" y1="226.0" x2="318.7" y2="226.0"/>
</g>
<line x1="153.3" y1="30.9" x2="180.6" y2="30.9" stroke="#00FFFF" stroke-width="1.7"/>
<text x="186.3" y="34.0" font-family="Liberation Sans, sans-serif" font-size="11.7" fill="#000">Catania</text>
<line x1="153.3" y1="48.7" x2="180.6" y2="48.7" stroke="#9C642C" stroke-width="1.7"/>
<text x="186.3" y="51.1" font-family="Liberation Sans, sans-serif" font-size="11.7" fill="#000">Duke</text>
<line x1="229.3" y1="30.9" x2="256.3" y2="30.9" stroke="#00FF00" stroke-width="1.7"/>
<text x="265.8" y="34.0" font-family="Liberation Sans, sans-serif" font-size="11.7" fill="#000">LBT</text>
<line x1="229.3" y1="48.9" x2="256.3" y2="48.9" stroke="#FF8000" stroke-width="1.7"/>
<text x="265.8" y="51.0" font-family="Liberation Sans, sans-serif" font-size="11.7" fill="#000">Nantes</text>
<line x1="229.3" y1="63.8" x2="256.3" y2="63.8" stroke="#0000FF" stroke-width="1.7"/>
<text x="265.8" y="65.7" font-family="Liberation Sans, sans-serif" font-size="11.7" fill="#000">PHSD</text>
<line x1="229.3" y1="79.9" x2="256.3" y2="79.9" stroke="#FF0000" stroke-width="1.7"/>
<text x="265.8" y="82.5" font-family="Liberation Sans, sans-serif" font-size="11.7" fill="#000">TAMU</text>
<text x="49.6" y="36.2" text-anchor="end" font-family="Liberation Serif, serif" font-size="15.5" fill="#000">10<tspan font-size="10.9" dy="-5.6">0</tspan></text>
<text x="49.6" y="95.2" text-anchor="end" font-family="Liberation Serif, serif" font-size="15.5" fill="#000">10<tspan font-size="10.9" dy="-5.6">−1</tspan></text>
<text x="49.6" y="154.2" text-anchor="end" font-family="Liberation Serif, serif" font-size="15.5" fill="#000">10<tspan font-size="10.9" dy="-5.6">−2</tspan></text>
<text x="49.6" y="213.2" text-anchor="end" font-family="Liberation Serif, serif" font-size="15.5" fill="#000">10<tspan font-size="10.9" dy="-5.6">−3</tspan></text>
<text x="49.6" y="249.2" text-anchor="end" font-family="Liberation Serif, serif" font-size="15.5" fill="#000">10<tspan font-size="10.9" dy="-5.6">0</tspan></text>
<text x="49.6" y="308.2" text-anchor="end" font-family="Liberation Serif, serif" font-size="15.5" fill="#000">10<tspan font-size="10.9" dy="-5.6">−1</tspan></text>
<text x="49.6" y="367.2" text-anchor="end" font-family="Liberation Serif, serif" font-size="15.5" fill="#000">10<tspan font-size="10.9" dy="-5.6">−2</tspan></text>
<text x="49.6" y="426.2" text-anchor="end" font-family="Liberation Serif, serif" font-size="15.5" fill="#000">10<tspan font-size="10.9" dy="-5.6">−3</tspan></text>
<text x="52.9" y="455.2" text-anchor="middle" font-family="Liberation Serif, serif" font-size="15.5" fill="#000">0</text>
<text x="116.1" y="455.2" text-anchor="middle" font-family="Liberation Serif, serif" font-size="15.5" fill="#000">5</text>
<text x="179.4" y="455.2" text-anchor="middle" font-family="Liberation Serif, serif" font-size="15.5" fill="#000">10</text>
<text x="242.6" y="455.2" text-anchor="middle" font-family="Liberation Serif, serif" font-size="15.5" fill="#000">15</text>
<text x="305.9" y="455.2" text-anchor="middle" font-family="Liberation Serif, serif" font-size="15.5" fill="#000">20</text>
<text y="476.8" font-family="Liberation Serif, serif" font-size="16.0" fill="#000"><tspan x="148.2" font-style="italic">p</tspan><tspan x="157.3" y="471.3" font-style="italic" font-size="11.2">c</tspan><tspan x="157.0" y="480.6" font-style="italic" font-size="11.2">T</tspan><tspan x="170.0" y="476.8">(GeV/c)</tspan></text>
<g transform="translate(14.1,176.9) rotate(-90)"><text font-family="Liberation Serif, serif" font-size="16.0" fill="#000"><tspan x="0.3" y="0" font-style="italic">P</tspan><tspan x="11.2" y="1.9" font-size="11.2">rec</tspan><tspan x="26.0" y="0">(</tspan><tspan x="35.6" y="0">c</tspan><tspan x="57.6" y="1.0">&gt;</tspan><tspan x="72.2" y="0">all</tspan><tspan x="91.2" y="0">D</tspan><tspan x="108.2" y="0">)</tspan></text><rect x="47.7" y="-5.1" width="8.8" height="1.0" fill="#111"/></g>
<g transform="translate(14.1,381.0) rotate(-90)"><text font-family="Liberation Serif, serif" font-size="16.0" fill="#000"><tspan x="0.3" y="0" font-style="italic">P</tspan><tspan x="11.2" y="1.9" font-size="11.2">rec</tspan><tspan x="26.0" y="0">(</tspan><tspan x="35.6" y="0">c</tspan><tspan x="57.6" y="1.0">&gt;</tspan><tspan x="72.2" y="0">all</tspan><tspan x="91.0" y="0">)</tspan></text><rect x="47.7" y="-5.1" width="8.8" height="1.0" fill="#111"/></g>
</svg></body></html>
